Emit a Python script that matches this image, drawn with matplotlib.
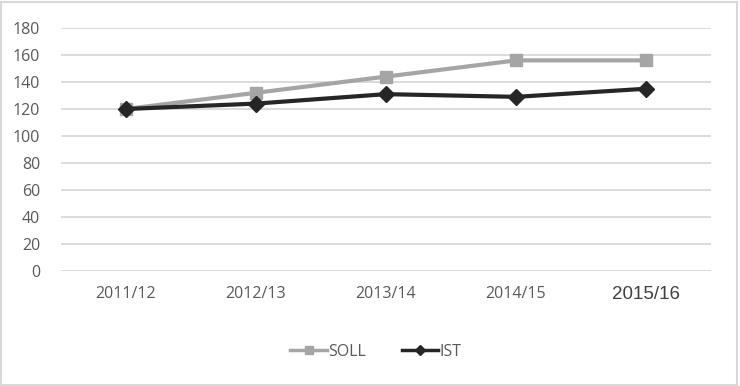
import matplotlib.pyplot as plt
from matplotlib.patches import Rectangle

years = ["2011/12", "2012/13", "2013/14", "2014/15", "2015/16"]
soll = [120, 132, 144, 156, 156]
ist = [120, 124, 131, 129, 135]
yticks = [0, 20, 40, 60, 80, 100, 120, 140, 160, 180]

plt.rcParams['font.family'] = ['Open Sans', 'DejaVu Sans']

fig = plt.figure(figsize=(7.4, 3.86), dpi=100)
ax = fig.add_axes([61 / 740, 1 - 271 / 386, 650 / 740, 243 / 386])

x = list(range(len(years)))
ax.plot(x, soll, color='#A5A5A5', lw=3, marker='s', ms=9, label='SOLL', zorder=3)
ax.plot(x, ist, color='#262626', lw=3, marker='D', ms=8, label='IST', zorder=4)

ax.set_xlim(-0.5, len(years) - 0.5)
ax.set_ylim(0, 180)
ax.set_yticks(yticks)
ax.yaxis.grid(True, color='#D9D9D9', lw=1.3)
ax.set_axisbelow(True)
for s in ax.spines.values():
    s.set_visible(False)
ax.tick_params(length=0, colors='#595959', labelsize=11.5)
ax.tick_params(axis='y', pad=15)
ax.tick_params(axis='x', pad=11)
ax.set_xticks(x)
ax.set_xticklabels(years)
last = ax.get_xticklabels()[-1]
last.set_fontfamily('Liberation Sans')
last.set_fontsize(13.5)
last.set_color('#404040')

leg = ax.legend(loc='upper center', bbox_to_anchor=(315 / 650, -0.24), ncol=2, frameon=False,
                fontsize=11.5, handlelength=2.3, handletextpad=0.1, columnspacing=2.2,
                labelcolor='#595959', markerscale=0.6)
for h in leg.get_lines():
    h.set_linewidth(2.5)

fig.patches.append(Rectangle((0.002, 0.003), 0.994, 0.992, transform=fig.transFigure,
                             fill=False, edgecolor='#D9D9D9', lw=1.5))

fig.savefig('out.png', dpi=100)
